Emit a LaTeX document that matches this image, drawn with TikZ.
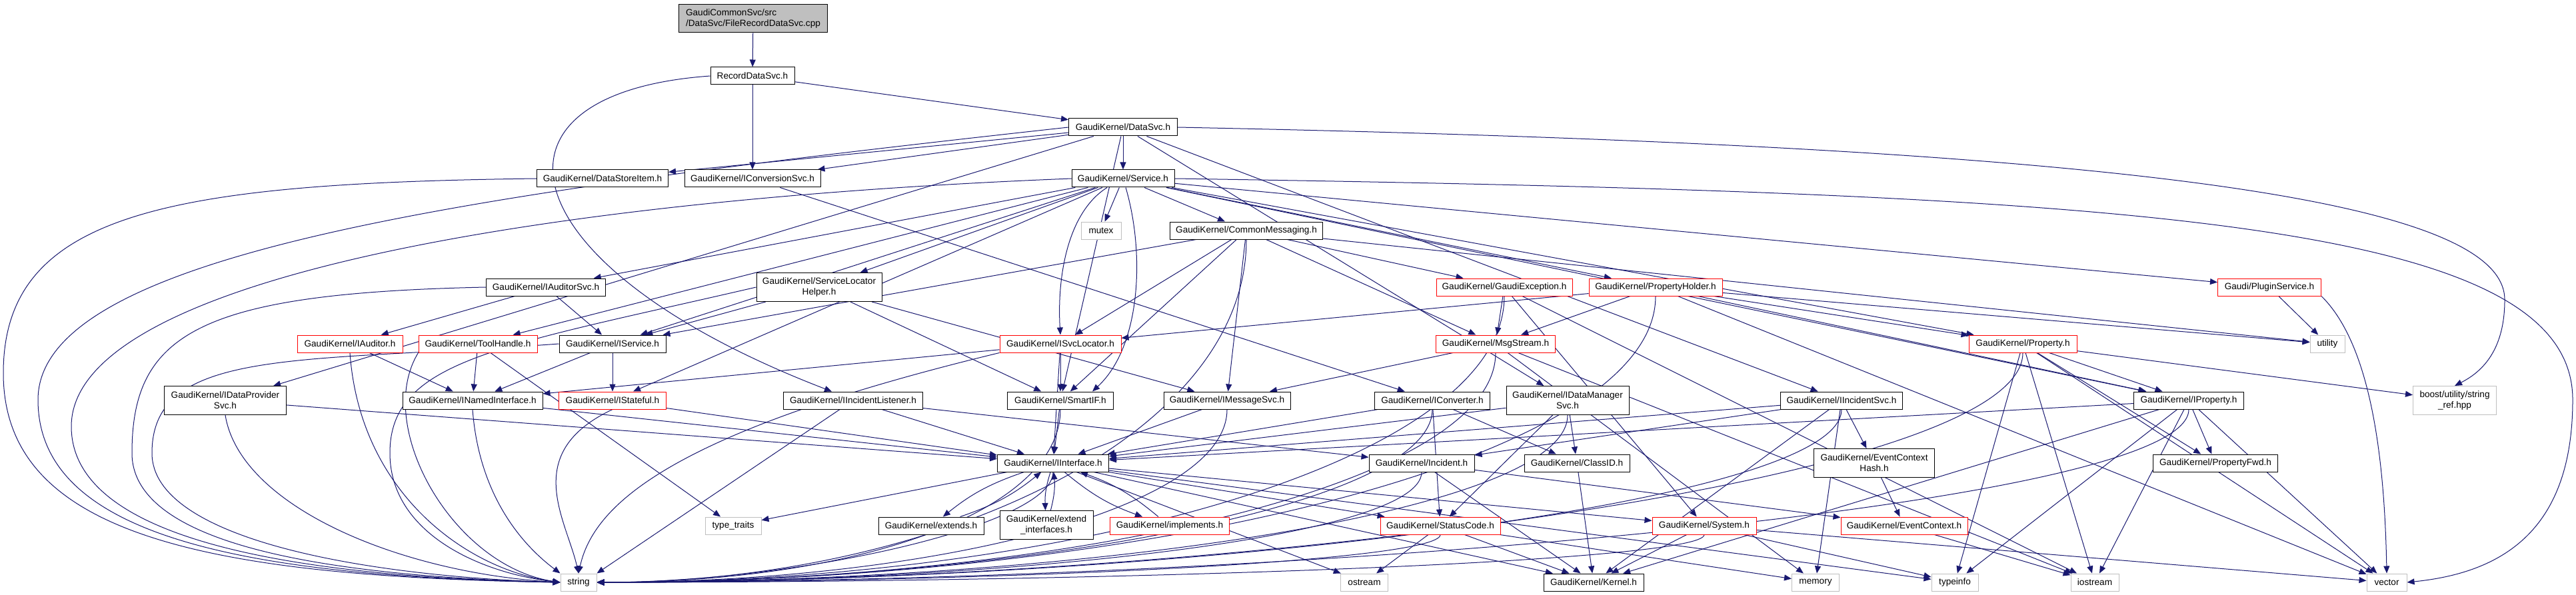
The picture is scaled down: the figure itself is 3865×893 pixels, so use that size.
\documentclass[tikz,border=0pt]{standalone}
\usepackage{fontspec}
\setmainfont{Liberation Sans}
\usetikzlibrary{arrows.meta,backgrounds}
\definecolor{edgeblue}{HTML}{191970}
\definecolor{sysgrey}{HTML}{BFBFBF}
\tikzset{
  file/.style={draw=black, fill=white, line width=0.5pt, inner sep=0pt,
    minimum height=13pt, align=center, font=\fontsize{6.8}{8}\selectfont},
  redfile/.style={file, draw=red},
  sysfile/.style={file, draw=sysgrey},
  rootfile/.style={file, fill=sysgrey, align=left},
  twoline/.style={minimum height=21.5pt},
  edge/.style={draw=edgeblue, line width=0.5pt, -{Triangle[length=5.5pt,width=4.5pt]}},
}
\begin{document}
\begin{tikzpicture}[x=0.5pt, y=0.5pt]
\useasboundingbox (0,0) rectangle (3865,-893);
% files
\node[rootfile, minimum width=111.5pt, minimum height=21pt] (root) at (1130,-28) {GaudiCommonSvc/src\\/DataSvc/FileRecordDataSvc.cpp};
\node[file, minimum width=63pt] (rds) at (1129,-114) {RecordDataSvc.h};
\node[file, minimum width=81.5pt] (datasvc) at (1685,-191) {GaudiKernel/DataSvc.h};
\node[file, minimum width=98.5pt] (dsitem) at (904,-268) {GaudiKernel/DataStoreItem.h};
\node[file, minimum width=102pt] (iconvsvc) at (1129,-268) {GaudiKernel/IConversionSvc.h};
\node[file, minimum width=77pt] (service) at (1685,-268) {GaudiKernel/Service.h};
\node[sysfile, minimum width=30pt] (mutex) at (1652,-346) {mutex};
\node[file, minimum width=114.5pt] (cmsg) at (1870,-346) {GaudiKernel/CommonMessaging.h};
\node[file, minimum width=89.5pt] (iaudsvc) at (819,-431) {GaudiKernel/IAuditorSvc.h};
\node[file, twoline, minimum width=94pt] (slhelper) at (1229,-431) {GaudiKernel/ServiceLocator\\Helper.h};
\node[redfile, minimum width=102pt] (gexc) at (2257,-431) {GaudiKernel/GaudiException.h};
\node[redfile, minimum width=100pt] (pholder) at (2484,-431) {GaudiKernel/PropertyHolder.h};
\node[redfile, minimum width=77.5pt] (plugin) at (3405,-431) {Gaudi/PluginService.h};
\node[redfile, minimum width=79pt] (iauditor) at (525,-516) {GaudiKernel/IAuditor.h};
\node[redfile, minimum width=89pt] (toolh) at (717,-516) {GaudiKernel/ToolHandle.h};
\node[file, minimum width=80pt] (iservice) at (919,-516) {GaudiKernel/IService.h};
\node[redfile, minimum width=91pt] (isvcloc) at (1591,-516) {GaudiKernel/ISvcLocator.h};
\node[redfile, minimum width=89.5pt] (msgstream) at (2244,-516) {GaudiKernel/MsgStream.h};
\node[redfile, minimum width=81pt] (property) at (3035,-516) {GaudiKernel/Property.h};
\node[sysfile, minimum width=26pt] (utility) at (3492,-516) {utility};
\node[file, twoline, minimum width=91.5pt] (idataprov) at (338,-601) {GaudiKernel/IDataProvider\\Svc.h};
\node[file, minimum width=105pt] (inamed) at (709,-601) {GaudiKernel/INamedInterface.h};
\node[redfile, minimum width=80.5pt] (istateful) at (919,-601) {GaudiKernel/IStateful.h};
\node[file, minimum width=104.5pt] (iincl) at (1280,-601) {GaudiKernel/IIncidentListener.h};
\node[file, minimum width=79.5pt] (smartif) at (1591,-601) {GaudiKernel/SmartIF.h};
\node[file, minimum width=95pt] (imsgsvc) at (1841,-601) {GaudiKernel/IMessageSvc.h};
\node[file, minimum width=86.5pt] (iconverter) at (2149,-601) {GaudiKernel/IConverter.h};
\node[file, twoline, minimum width=92pt] (idatamgr) at (2352,-601) {GaudiKernel/IDataManager\\Svc.h};
\node[file, minimum width=91.5pt] (iincsvc) at (2763,-601) {GaudiKernel/IIncidentSvc.h};
\node[file, minimum width=82.5pt] (iproperty) at (3284,-601) {GaudiKernel/IProperty.h};
\node[sysfile, twoline, minimum width=62.5pt] (boost) at (3683,-601) {boost/utility/string\\\_ref.hpp};
\node[file, minimum width=83.5pt] (iinterface) at (1580,-695) {GaudiKernel/IInterface.h};
\node[file, minimum width=79pt] (incident) at (2133,-695) {GaudiKernel/Incident.h};
\node[file, minimum width=79pt] (classid) at (2366,-695) {GaudiKernel/ClassID.h};
\node[file, twoline, minimum width=90.5pt] (evctxhash) at (2812,-695) {GaudiKernel/EventContext\\Hash.h};
\node[file, minimum width=93.5pt] (propfwd) at (3324,-695) {GaudiKernel/PropertyFwd.h};
\node[sysfile, minimum width=42pt] (typetraits) at (1100,-789) {type\_traits};
\node[file, minimum width=79pt] (extends) at (1397,-789) {GaudiKernel/extends.h};
\node[file, twoline, minimum width=70pt] (extendif) at (1570,-788) {GaudiKernel/extend\\\_interfaces.h};
\node[redfile, minimum width=89.5pt] (implements) at (1755,-789) {GaudiKernel/implements.h};
\node[redfile, minimum width=90pt] (statuscode) at (2161,-789) {GaudiKernel/StatusCode.h};
\node[redfile, minimum width=78pt] (system) at (2557,-789) {GaudiKernel/System.h};
\node[redfile, minimum width=95pt] (evctx) at (2857,-789) {GaudiKernel/EventContext.h};
\node[sysfile, minimum width=27pt] (string) at (868,-874) {string};
\node[sysfile, minimum width=35.5pt] (ostream) at (2047,-874) {ostream};
\node[file, minimum width=75pt] (kernel) at (2391,-874) {GaudiKernel/Kernel.h};
\node[sysfile, minimum width=35.5pt] (memory) at (2724,-874) {memory};
\node[sysfile, minimum width=35pt] (typeinfo) at (2933,-874) {typeinfo};
\node[sysfile, minimum width=36pt] (iostream) at (3143,-874) {iostream};
\node[sysfile, minimum width=30pt] (vector) at (3581,-874) {vector};
% includes
\begin{scope}[on background layer]
\foreach \a/\b in {root/rds, rds/datasvc, rds/iconvsvc, datasvc/dsitem, datasvc/iconvsvc,
  datasvc/service, datasvc/idataprov, datasvc/idatamgr, datasvc/iincsvc, datasvc/smartif,
  service/mutex, service/cmsg, service/iaudsvc, service/slhelper, service/pholder,
  service/plugin, service/toolh, service/iservice, service/istateful,
  service/property, service/iproperty,
  cmsg/gexc, cmsg/isvcloc, cmsg/smartif, cmsg/imsgsvc, cmsg/msgstream, cmsg/iservice, cmsg/utility,
  iaudsvc/iauditor, iaudsvc/iservice, slhelper/iservice, slhelper/smartif, slhelper/imsgsvc,
  gexc/msgstream, gexc/system, gexc/iostream,
  pholder/msgstream, pholder/property, pholder/iproperty, pholder/utility, pholder/isvcloc, pholder/vector,
  plugin/utility, iauditor/inamed, toolh/inamed, toolh/typetraits, iservice/inamed, iservice/istateful,
  isvcloc/smartif, isvcloc/iinterface, isvcloc/inamed,
  msgstream/imsgsvc, msgstream/iostream, msgstream/memory,
  property/iproperty, property/propfwd, property/boost, property/typeinfo, property/iostream, property/vector,
  iproperty/propfwd, iproperty/iinterface, iproperty/vector, iproperty/iostream, iproperty/typeinfo, iproperty/kernel,
  idataprov/iinterface, inamed/iinterface, istateful/iinterface, iincl/iinterface, iincl/incident,
  smartif/iinterface, imsgsvc/iinterface,
  iconvsvc/iconverter, iconverter/iinterface, iconverter/classid, iconverter/statuscode,
  idatamgr/iinterface, idatamgr/classid, idatamgr/statuscode,
  iincsvc/iinterface, iincsvc/incident, iincsvc/evctxhash, iincsvc/memory, iincsvc/kernel,
  evctxhash/evctx, incident/evctx, incident/kernel, classid/kernel,
  iinterface/typetraits, iinterface/statuscode, iinterface/kernel, iinterface/ostream,
  iinterface/system, iinterface/typeinfo,
  statuscode/ostream, statuscode/kernel, statuscode/memory,
  system/kernel, system/typeinfo, system/vector, evctx/iostream}
  \draw[edge] (\a) -- (\b);
% round mutex
\draw[edge] ([xshift=-12pt]service.south) .. controls (1600,-320) and (1586,-420) .. (isvcloc.north);
\draw[edge] ([xshift=2pt]service.south) .. controls (1718,-380) and (1712,-520) .. ([xshift=24pt]smartif.north);
\draw[edge] (rds.west) .. controls (700,-140) and (760,-400) .. ([xshift=-16pt]iincl.north);
% extends and friends include IInterface back
\foreach \b in {extends, extendif, implements} {
  \draw[edge] (iinterface) to[bend right=10] (\b);
  \draw[edge] (\b) to[bend right=10] (iinterface);
}
% long ones into string, from the right along the bottom
\foreach \s/\c/\d in {smartif/150/400, imsgsvc/150/500, iconverter/150/600, idatamgr/150/700,
  incident/100/600, cmsg/300/500, gexc/250/700, msgstream/200/700, pholder/250/800,
  property/200/900, iproperty/150/1000, system/40/800, statuscode/40/600,
  iinterface/80/300, iincsvc/150/800}
  \draw[edge] (\s.south) .. controls +(0,-\c) and +(\d,0) .. (string.east);
% loops round the left side into string
\draw[edge] (dsitem.west) .. controls (250,-275) and (5,-320) .. (5,-560)
  .. controls (5,-800) and (300,-865) .. (string.west);
\draw[edge] (datasvc.west) .. controls (700,-290) and (57,-380) .. (57,-600)
  .. controls (57,-800) and (350,-865) .. (string.west);
\draw[edge] (service.west) .. controls (800,-300) and (107,-420) .. (107,-640)
  .. controls (107,-800) and (400,-865) .. (string.west);
\draw[edge] (iaudsvc.west) .. controls (300,-440) and (198,-500) .. (198,-680)
  .. controls (198,-820) and (500,-865) .. (string.west);
\draw[edge] (iservice.west) .. controls (450,-545) and (228,-520) .. (228,-680)
  .. controls (228,-810) and (550,-865) .. (string.west);
\draw[edge] (slhelper.west) .. controls (750,-520) and (585,-540) .. (585,-680)
  .. controls (585,-800) and (720,-860) .. (string.west);
\draw[edge] (idataprov.south) .. controls (360,-760) and (600,-860) .. (string.west);
\draw[edge] (iauditor.south) .. controls (540,-740) and (700,-855) .. (string.west);
\draw[edge] (toolh.south west) .. controls (560,-640) and (680,-850) .. (string.west);
% from above into string
\draw[edge] (inamed.south) .. controls (720,-760) and (800,-830) .. (string.north west);
\draw[edge] (istateful.south) .. controls (780,-680) and (850,-780) .. (string.north);
\draw[edge] (isvcloc.south west) .. controls (1000,-650) and (890,-760) .. (string.north);
\draw[edge] (iincl) -- (string.north east);
% loops round the right side
\draw[edge] (service.east) .. controls (3200,-290) and (3860,-330) .. (3860,-600)
  .. controls (3860,-800) and (3750,-860) .. (vector.east);
\draw[edge] (datasvc.east) .. controls (3200,-220) and (3758,-300) .. (3758,-450)
  .. controls (3758,-530) and (3720,-560) .. (boost.north);
\draw[edge] (plugin.south east) .. controls (3560,-520) and (3578,-700) .. (vector.north);
\end{scope}
\end{tikzpicture}
\end{document}
